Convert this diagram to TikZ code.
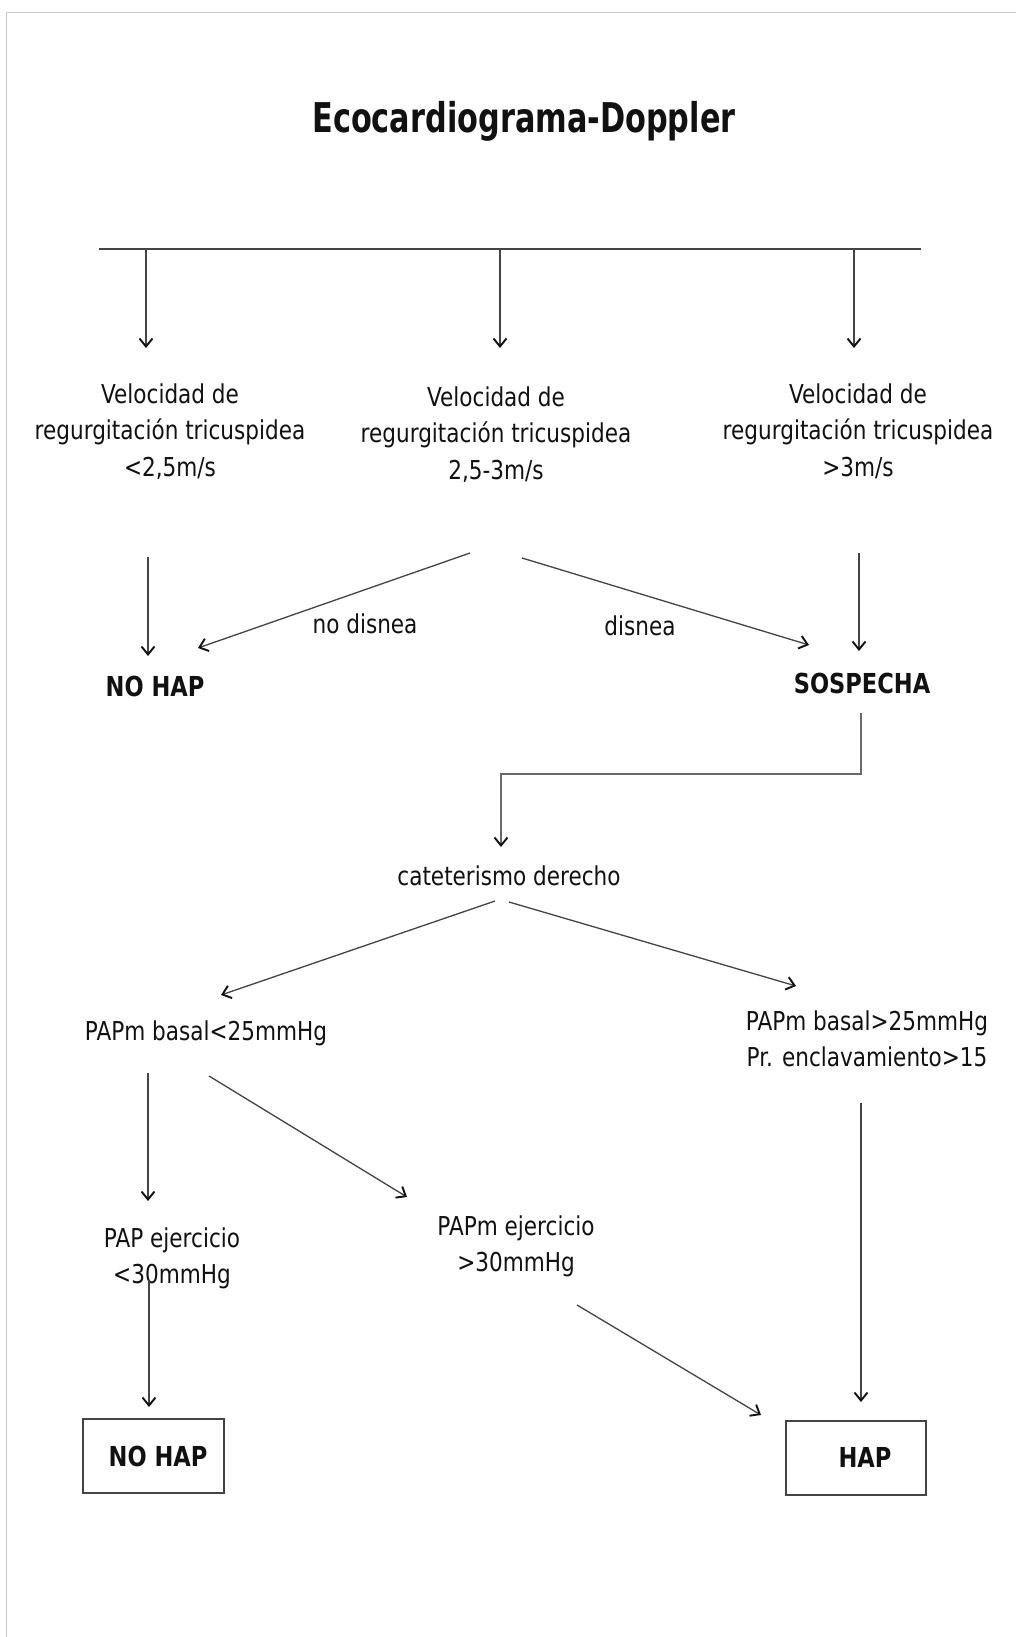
\documentclass[tikz,border=0pt]{standalone}
\usepackage{fontspec}
\usetikzlibrary{arrows.meta}
\newfontfamily\fnormfam{DejaVu Sans}[FakeStretch=0.83]
\newfontfamily\fboldfam{DejaVu Sans}[FakeStretch=0.82]
\newfontfamily\ftitlefam{DejaVu Sans}[FakeStretch=0.74]
\newcommand\fnorm{\fnormfam\fontsize{26}{36.7}\selectfont}
\newcommand\fbold{\fboldfam\bfseries\fontsize{27.5}{32}\selectfont}
\newcommand\ftitle{\ftitlefam\bfseries\fontsize{41}{49}\selectfont}
\newcommand\topst{\rule{0pt}{20.5pt}}
\definecolor{ink}{HTML}{111111}
\definecolor{linegray}{HTML}{444444}
\definecolor{framegray}{HTML}{C8C8C8}
\begin{document}
\begin{tikzpicture}[x=1pt,y=-1pt,
  txt/.style={font=\fnorm, text=ink, inner sep=0pt, align=center},
  mtxt/.style={txt, anchor=north},
  stxt/.style={txt, anchor=base},
  btxt/.style={font=\fbold, text=ink, inner sep=0pt, anchor=base},
  conn/.style={draw=linegray, line width=1.3pt},
  arr/.style={conn, -{Straight Barb[length=8pt,width=13pt,line width=1.9pt,color=ink]}},
  resbox/.style={draw=linegray, line width=2pt, font=\fbold, text=ink,
                 minimum width=141pt, minimum height=74pt, inner sep=0pt}]
\useasboundingbox (0,0) rectangle (1016,1637);
\fill[white] (0,0) rectangle (1016,1637);
% page frame
\draw[framegray, line width=1.5pt] (6.5,1637) -- (6.5,12.5) -- (1016,12.5);

% title
\node[btxt, font=\ftitle] (title) at (524,133) {Ecocardiograma-Doppler};

% top bar and drops
\coordinate (barL) at (99,249);
\coordinate (barR) at (921,249);
\draw[draw=linegray, line width=2.2pt] (barL) -- (barR);
\coordinate (d1s) at (146,249); \coordinate (d1e) at (146,348);
\coordinate (d2s) at (500,249); \coordinate (d2e) at (500,348);
\coordinate (d3s) at (854,249); \coordinate (d3e) at (854,348);
\draw[arr] (d1s) -- (d1e);
\draw[arr] (d2s) -- (d2e);
\draw[arr] (d3s) -- (d3e);

% level 2
\node[mtxt] (v1) at (170,382.5) {\topst Velocidad de\\regurgitación tricuspidea\\<2,5m/s};
\node[mtxt] (v2) at (496,385.5) {\topst Velocidad de\\regurgitación tricuspidea\\2,5-3m/s};
\node[mtxt] (v3) at (858,382.5) {\topst Velocidad de\\regurgitación tricuspidea\\>3m/s};

% level 3
\node[btxt] (nohap1) at (155,696) {NO HAP};
\node[btxt] (sosp) at (862,693) {SOSPECHA};
\node[stxt] (nodis) at (365,633) {no disnea};
\node[stxt] (dis) at (640,635) {disnea};
\coordinate (a1s) at (148,557); \coordinate (a1e) at (148,656);
\coordinate (a2s) at (470,553); \coordinate (a2e) at (198,648);
\coordinate (a3s) at (522,558); \coordinate (a3e) at (809,645);
\coordinate (a4s) at (859,553); \coordinate (a4e) at (859,651);
\draw[arr] (a1s) -- (a1e);
\draw[arr] (a2s) -- (a2e);
\draw[arr] (a3s) -- (a3e);
\draw[arr] (a4s) -- (a4e);

% elbow to cateterismo
\coordinate (e1) at (861,713);
\coordinate (e2) at (861,774);
\coordinate (e3) at (501,774);
\coordinate (e4) at (501,847);
\draw[arr, line width=2pt, draw=linegray!80] (e1) -- (e2) -- (e3) -- (e4);

\node[stxt] (cat) at (509,885) {cateterismo derecho};
\coordinate (c1s) at (495,901); \coordinate (c1e) at (221,995);
\coordinate (c2s) at (509,902); \coordinate (c2e) at (796,986);
\draw[arr] (c1s) -- (c1e);
\draw[arr] (c2s) -- (c2e);

% level 5
\node[stxt] (pbl) at (206,1040) {PAPm basal<25mmHg};
\node[mtxt] (pbr) at (867,1009.5) {\topst PAPm basal>25mmHg\\Pr. enclavamiento>15};
\coordinate (p1s) at (148,1073); \coordinate (p1e) at (148,1201);
\coordinate (p2s) at (209,1076); \coordinate (p2e) at (407,1197);
\coordinate (p3s) at (861,1103); \coordinate (p3e) at (861,1402);
\draw[arr] (p1s) -- (p1e);
\draw[arr] (p2s) -- (p2e);
\draw[arr] (p3s) -- (p3e);

% level 6
\node[mtxt] (pel) at (172,1226.5) {\topst PAP ejercicio\\<30mmHg};
\node[mtxt] (per) at (516,1214.5) {\topst PAPm ejercicio\\>30mmHg};
\coordinate (q1s) at (149,1280); \coordinate (q1e) at (149,1407);
\coordinate (q2s) at (577,1305); \coordinate (q2e) at (761,1415);
\draw[arr] (q1s) -- (q1e);
\draw[arr] (q2s) -- (q2e);

% result boxes
\node[resbox] (nohap2) at (153.5,1456) {\hspace*{9pt}NO HAP};
\node[resbox, minimum width=140pt] (hap) at (856,1457.5) {\hspace*{18pt}HAP};
\end{tikzpicture}
\end{document}
